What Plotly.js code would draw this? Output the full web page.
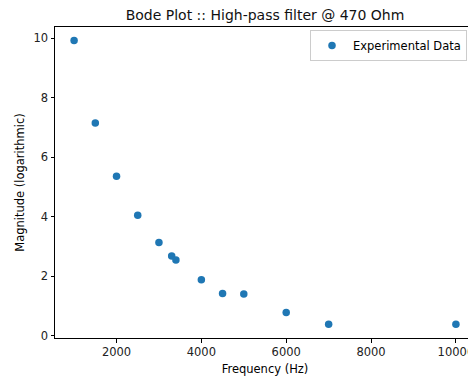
<!DOCTYPE html>
<html>
<head>
<meta charset="utf-8">
<script src="https://cdn.plot.ly/plotly-3.0.1.min.js"></script>
<style>
html,body{margin:0;padding:0;overflow:hidden;background:#fff;}
#chart{width:476px;height:379px;}
</style>
</head>
<body>
<div id="chart"></div>
<script>
const frequency = [1000, 1500, 2000, 2500, 3000, 3300, 3400, 4000, 4500, 5000, 6000, 7000, 10000];
const magnitude = [9.92, 7.15, 5.36, 4.05, 3.13, 2.68, 2.55, 1.88, 1.42, 1.40, 0.78, 0.39, 0.39];
const xTickVals = [2000, 4000, 6000, 8000, 10000];
const xTickText = ["2000", "4000", "6000", "8000", "10000"];
const yTickVals = [0, 2, 4, 6, 8, 10];
const seriesName = "Experimental Data";
const titleText = "Bode Plot :: High-pass filter @ 470 Ohm";
const xTitle = "Frequency (Hz)";
const yTitle = "Magnitude (logarithmic)";

const font = "DejaVu Sans, sans-serif";
const trace = {
  x: frequency, y: magnitude, type: "scatter", mode: "markers", name: seriesName,
  marker: {color: "#1f77b4", size: 7.5}
};
const axisCommon = {
  showline: true, linecolor: "#000", linewidth: 1, mirror: true,
  ticks: "outside", ticklen: 3.5, tickcolor: "#000", tickwidth: 1,
  showgrid: false, zeroline: false,
  tickfont: {family: font, size: 11.5, color: "#222"}
};
const layout = {
  width: 476, height: 379,
  margin: {l: 55, r: 1, t: 27, b: 41},
  paper_bgcolor: "#fff", plot_bgcolor: "#fff",
  title: {text: titleText, font: {family: font, size: 14, color: "#111"}, x: 265/476, xanchor: "center", y: 1 - 15/379, yanchor: "middle"},
  xaxis: Object.assign({}, axisCommon, {
    range: [550, 10450], tickvals: xTickVals, ticktext: xTickText,
    title: {text: xTitle, font: {family: font, size: 11.5, color: "#000"}, standoff: 6}
  }),
  yaxis: Object.assign({}, axisCommon, {
    range: [-0.075, 10.375], tickvals: yTickVals,
    title: {text: yTitle, font: {family: font, size: 11.5, color: "#000"}, standoff: 6}
  }),
  showlegend: true,
  legend: {x: (310-55)/420, y: 1 - (30-27)/311, xanchor: "left", yanchor: "top",
    itemwidth: 32,
    bordercolor: "#ccc", borderwidth: 1, bgcolor: "rgba(255,255,255,0.8)",
    font: {family: font, size: 11.5, color: "#000"}}
};
Plotly.newPlot("chart", [trace], layout, {displayModeBar: false, staticPlot: true});
</script>
</body>
</html>
